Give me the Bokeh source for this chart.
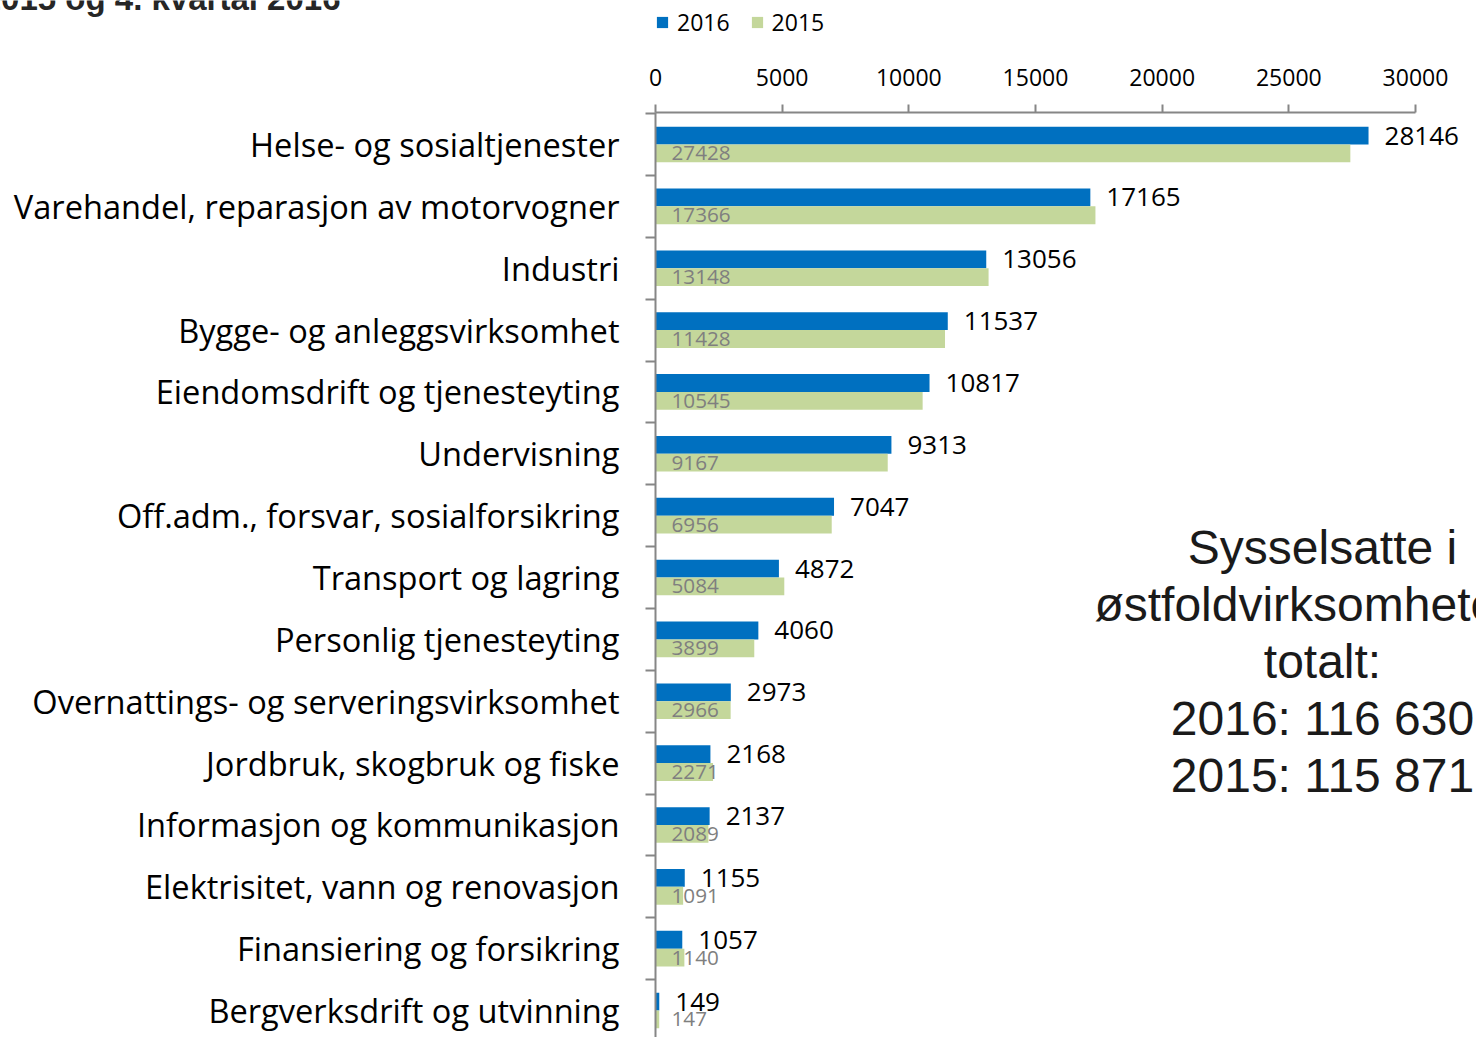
from bokeh.plotting import figure
from bokeh.layouts import column
from bokeh.models import Range1d, FixedTicker, Label, Legend, LegendItem, ColumnDataSource
from bokeh.transform import dodge
from bokeh.embed import file_html
from bokeh.resources import INLINE
from bokeh.core.properties import value

# ---------------- data ----------------
categories = [
    "Helse- og sosialtjenester",
    "Varehandel, reparasjon av motorvogner",
    "Industri",
    "Bygge- og anleggsvirksomhet",
    "Eiendomsdrift og tjenesteyting",
    "Undervisning",
    "Off.adm., forsvar, sosialforsikring",
    "Transport og lagring",
    "Personlig tjenesteyting",
    "Overnattings- og serveringsvirksomhet",
    "Jordbruk, skogbruk og fiske",
    "Informasjon og kommunikasjon",
    "Elektrisitet, vann og renovasjon",
    "Finansiering og forsikring",
    "Bergverksdrift og utvinning",
]
v2016 = [28146, 17165, 13056, 11537, 10817, 9313, 7047, 4872, 4060, 2973, 2168, 2137, 1155, 1057, 149]
v2015 = [27428, 17366, 13148, 11428, 10545, 9167, 6956, 5084, 3899, 2966, 2271, 2089, 1091, 1140, 147]
x_ticks = [0, 5000, 10000, 15000, 20000, 25000, 30000]
series = ["2016", "2015"]
title_text = "2015 og 4. kvartal 2016"
note_lines = ["Sysselsatte i", "østfoldvirksomhetene", "totalt:", "2016: 116 630", "2015: 115 871"]

# ---------------- layout ----------------
W, H = 1476, 1037
HEAD = 56                    # height of the strip holding legend + title
LEFT, TOP = 655, 112         # frame position on the page
PXU = 760 / 30000.0          # pixels per unit on x
BAND = 61.86                 # pixels per category
x_end = (W - LEFT) / PXU
y_top = -(144 - TOP) / BAND
y_bot = y_top + (H - TOP) / BAND

def xd(px):
    return (px - LEFT) / PXU

def yd(py):
    return y_top + (py - TOP) / BAND

BLUE = "#0070C0"
GREEN = "#C4D79B"
GREY = "#868686"
CAL = "Open Sans"

# ---------------- head strip: legend and clipped title ----------------
head = figure(width=W, height=HEAD, y_range=Range1d(HEAD, 0),
              output_backend="svg", toolbar_location=None,
              min_border_left=0, min_border_right=0, min_border_top=0, min_border_bottom=0)
can_unalign = "frame_align" in head.properties()
if can_unalign:
    head.frame_align = False
    X0 = 0          # head frame starts at the page's left edge
else:
    X0 = LEFT       # head frame aligned with the main chart's frame
head.x_range = Range1d(0, W - X0)
head.axis.visible = False
head.grid.visible = False
head.outline_line_color = None
# legend swatches only: one hidden row placed far outside the strip's range
swatch = ColumnDataSource(dict(y=[-1000], right=[1]))
g16 = head.hbar(y="y", right="right", left=0, height=1, source=swatch, fill_color=BLUE, line_color=None)
g15 = head.hbar(y="y", right="right", left=0, height=1, source=swatch, fill_color=GREEN, line_color=None)
legend = Legend(items=[LegendItem(label=series[0], renderers=[g16]),
                       LegendItem(label=series[1], renderers=[g15])],
                orientation="horizontal", location=(LEFT - X0, 18),
                padding=2, margin=0, spacing=20, label_standoff=8,
                glyph_width=14, glyph_height=14,
                border_line_color=None, background_fill_alpha=0,
                label_text_font=CAL, label_text_font_size="23px",
                label_text_color="#000000")
head.add_layout(legend)
head.add_layout(Label(x=340 - X0, y=-2, text=title_text, text_align="right",
                      text_baseline="alphabetic", text_font="Liberation Sans",
                      text_font_style="bold", text_font_size="33px", text_color="#262626"))

# ---------------- main chart ----------------
src = ColumnDataSource(dict(
    y=list(range(len(categories))),
    v2016=v2016, v2015=v2015,
    zero=[0] * len(categories),
    l2016=[str(v) for v in v2016],
    l2015=[str(v) for v in v2015],
))

p = figure(width=W, height=H - HEAD, x_range=Range1d(0, x_end), y_range=Range1d(y_bot, y_top),
           output_backend="svg", toolbar_location=None, x_axis_location="above",
           min_border_left=LEFT, min_border_top=TOP - HEAD, min_border_right=0, min_border_bottom=0)
if can_unalign:
    p.frame_align = False
p.outline_line_color = None
p.xgrid.visible = False
p.ygrid.visible = False

BH = 0.288
p.hbar(y=dodge("y", -BH / 2), height=BH, left=0, right="v2016", source=src,
       fill_color=BLUE, line_color=None)
p.hbar(y=dodge("y", BH / 2), height=BH, left=0, right="v2015", source=src,
       fill_color=GREEN, line_color=None)

p.text(x="v2016", y=dodge("y", -BH / 2), text="l2016", source=src, x_offset=16,
       text_baseline="middle", text_align="left", text_font=value(CAL),
       text_font_size="26px", text_color="#000000")
p.text(x="zero", y=dodge("y", BH / 2), text="l2015", source=src, x_offset=16,
       text_baseline="middle", text_align="left", text_font=value(CAL),
       text_font_size="20.7px", text_color="#7F7F7F")

# top x axis
xa = p.xaxis[0]
xa.ticker = FixedTicker(ticks=x_ticks)
xa.bounds = (0, 30000)
xa.axis_line_color = GREY
xa.axis_line_width = 2
xa.major_tick_out = 8
xa.major_tick_in = 0
xa.major_tick_line_color = GREY
xa.major_tick_line_width = 2
xa.minor_tick_out = 0
xa.minor_tick_in = 0
xa.major_label_text_font = CAL
xa.major_label_text_font_size = "23px"
xa.major_label_text_color = "#000000"
xa.major_label_standoff = 19

# left category axis
ya = p.yaxis[0]
ya.ticker = FixedTicker(ticks=list(range(len(categories))),
                        minor_ticks=[i - 0.5 for i in range(len(categories) + 1)])
ya.major_label_overrides = {i: c for i, c in enumerate(categories)}
ya.axis_line_color = GREY
ya.axis_line_width = 2
ya.major_tick_out = 0
ya.major_tick_in = 0
ya.minor_tick_out = 10
ya.minor_tick_in = 0
ya.minor_tick_line_color = GREY
ya.minor_tick_line_width = 2
ya.major_label_text_font = CAL
ya.major_label_text_font_size = "32.6px"
ya.major_label_text_color = "#000000"
ya.major_label_standoff = 26

# side note
for i, line in enumerate(note_lines):
    p.add_layout(Label(x=xd(1322), y=yd(547 + 57 * i), text=line, text_align="center",
                       text_baseline="alphabetic", text_font="Liberation Sans",
                       text_font_size="48px", text_color="#1A1A1A"))

page = column(head, p, spacing=0)
open("out.html", "w").write(file_html(page, INLINE))
